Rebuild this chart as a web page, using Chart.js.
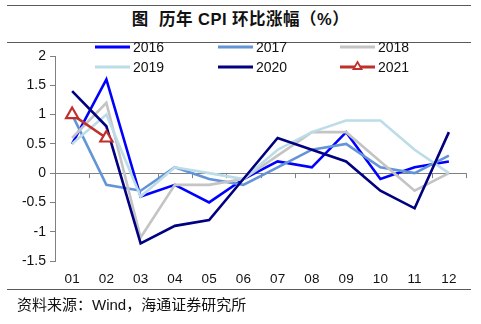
<!DOCTYPE html>
<html>
<head>
<meta charset="utf-8">
<script src="https://cdn.jsdelivr.net/npm/chart.js@4/dist/chart.umd.min.js"></script>
<style>
  html, body { margin: 0; padding: 0; background: #fff; }
  #wrap { position: relative; width: 481px; height: 324px; overflow: hidden; font-family: "Liberation Sans", Arial, sans-serif; }
  #chart { position: absolute; left: 0; top: 0; }
  .rule { position: absolute; left: 7px; width: 464px; height: 0; border-top: 1.5px solid #5a5a5a; }
  #title { position: absolute; left: 0; width: 481px; top: 6px; text-align: center; font-size: 16.5px; font-weight: bold; color: #111;
           font-family: "Liberation Sans", "Noto Sans CJK SC", sans-serif; letter-spacing: 0.5px; }
  #source { position: absolute; left: 17px; top: 293px; font-size: 15px; color: #111;
            font-family: "Liberation Sans", "Noto Sans CJK SC", sans-serif; }
</style>
</head>
<body>
<div id="wrap">
  <div class="rule" style="top:5px"></div>
  <div id="title">图&nbsp;&nbsp;历年 CPI 环比涨幅（%）</div>
  <div class="rule" style="top:42px"></div>
  <canvas id="chart" width="481" height="324"></canvas>
  <div class="rule" style="top:289px"></div>
  <div id="source">资料来源：Wind，海通证券研究所</div>
</div>
<script>
var months = ["01", "02", "03", "04", "05", "06", "07", "08", "09", "10", "11", "12"];
var yearLabels = ["2016", "2017", "2018", "2019", "2020", "2021"];

var cpi2016 = [0.5, 1.6, -0.4, -0.2, -0.5, -0.1, 0.2, 0.1, 0.7, -0.1, 0.1, 0.2];
var cpi2017 = [1.0, -0.2, -0.3, 0.1, -0.1, -0.2, 0.1, 0.4, 0.5, 0.1, 0.0, 0.3];
var cpi2018 = [0.6, 1.2, -1.1, -0.2, -0.2, -0.1, 0.3, 0.7, 0.7, 0.2, -0.3, 0.0];
var cpi2019 = [0.5, 1.0, -0.4, 0.1, 0.0, -0.1, 0.4, 0.7, 0.9, 0.9, 0.4, 0.0];
var cpi2020 = [1.4, 0.8, -1.2, -0.9, -0.8, -0.1, 0.6, 0.4, 0.2, -0.3, -0.6, 0.7];
var cpi2021 = [1.0, 0.6];

var colors = ["#0000ff", "#6394d8", "#c4c4c4", "#bcdde8", "#000080", "#c0302a"];
var series = [cpi2016, cpi2017, cpi2018, cpi2019, cpi2020, cpi2021];

var datasets = series.map(function (vals, i) {
  var isLast = i == series.length - 1;
  return {
    label: yearLabels[i],
    data: vals,
    borderColor: colors[i],
    backgroundColor: "#ffffff",
    borderWidth: 2.6,
    tension: 0,
    fill: false,
    pointRadius: isLast ? 7 : 0,
    pointStyle: "triangle",
    pointBorderWidth: 2.2,
    pointBorderColor: colors[i],
    pointBackgroundColor: "#ffffff",
    order: series.length - 1 - i
  };
});

// legend drawn inside the chart, 3 columns x 2 rows
var legendPlugin = {
  id: "gridLegend",
  afterDraw: function (chart) {
    var ctx = chart.ctx;
    var colX = [95, 218, 340];
    var rowY = [47, 67];
    ctx.save();
    chart.data.datasets.forEach(function (ds, i) {
      var x = colX[i % 3], y = rowY[Math.floor(i / 3)];
      ctx.strokeStyle = ds.borderColor;
      ctx.lineWidth = 3;
      ctx.beginPath();
      ctx.moveTo(x, y);
      ctx.lineTo(x + 35, y);
      ctx.stroke();
      if (ds.pointRadius > 0) {
        ctx.lineWidth = 1.8;
        ctx.fillStyle = "#fff";
        ctx.beginPath();
        ctx.moveTo(x + 17.5, y - 5);
        ctx.lineTo(x + 21.5, y + 2);
        ctx.lineTo(x + 13.5, y + 2);
        ctx.closePath();
        ctx.fill();
        ctx.stroke();
      }
      ctx.fillStyle = "#111";
      ctx.font = "14px 'Liberation Sans', Arial";
      ctx.textBaseline = "middle";
      ctx.fillText(ds.label, x + 38, y + 1);
    });
    ctx.restore();
  }
};

// small tick marks hanging from the zero line at category boundaries
var zeroTicks = {
  id: "zeroTicks",
  beforeDatasetsDraw: function (chart) {
    var xs = chart.scales.x, ys = chart.scales.y, ctx = chart.ctx;
    var y0 = ys.getPixelForValue(0);
    ctx.save();
    ctx.strokeStyle = "#808080";
    ctx.lineWidth = 1;
    for (var i = 0; i <= months.length; i++) {
      var x = Math.round(xs.getPixelForValue(i - 0.5)) + 0.5;
      ctx.beginPath();
      ctx.moveTo(x, y0);
      ctx.lineTo(x, y0 + 5);
      ctx.stroke();
    }
    ctx.restore();
  }
};

new Chart(document.getElementById("chart"), {
  type: "line",
  data: { labels: months, datasets: datasets },
  plugins: [zeroTicks, legendPlugin],
  options: {
    responsive: false,
    animation: false,
    layout: { padding: { left: 0, top: 56, right: 15, bottom: 0 } },
    plugins: { legend: { display: false }, tooltip: { enabled: false } },
    scales: {
      x: {
        offset: true,
        grid: { display: false, drawTicks: false },
        border: { display: false },
        ticks: { color: "#111", font: { size: 13.5, family: "'Liberation Sans', Arial" }, padding: 10, maxRotation: 0 },
        afterFit: function (s) { s.height = 63; }
      },
      y: {
        min: -1.5,
        max: 2,
        grid: {
          color: function (c) { return c.tick && c.tick.value === 0 ? "#808080" : "rgba(0,0,0,0)"; },
          tickColor: "#808080",
          tickLength: 5,
          lineWidth: 1
        },
        border: { display: true, color: "#808080", width: 1 },
        ticks: {
          stepSize: 0.5,
          color: "#111",
          font: { size: 14, family: "'Liberation Sans', Arial" },
          padding: 4,
          callback: function (v) { return String(Number(v.toFixed(1))); }
        },
        afterFit: function (s) { s.width = 55; }
      }
    }
  }
});
</script>
</body>
</html>
